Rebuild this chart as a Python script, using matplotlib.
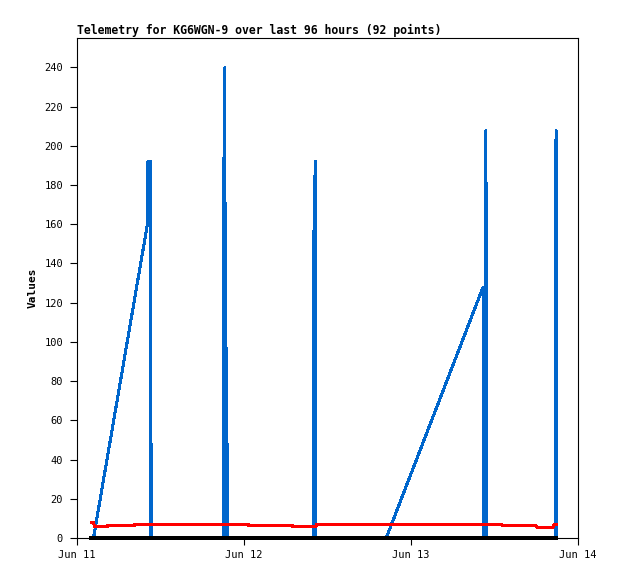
import matplotlib
matplotlib.use("Agg")
import matplotlib.pyplot as plt
import matplotlib.dates as mdates
import numpy as np
import pandas as pd

# Telemetry samples, hours after Jun 11 00:00
base = pd.Timestamp("2024-06-11 00:00")

blue_hours = [2.08, 2.37, 10.12, 10.19, 10.55, 10.60, 10.64, 10.70, 10.72,
              21.03, 21.08, 21.25, 21.32, 21.46, 21.52, 21.61, 21.67,
              33.95, 34.00, 34.24, 34.31, 44.44,
              58.36, 58.42, 58.58, 58.65, 58.77, 58.84,
              68.77, 68.84, 68.90]
blue_vals = [0, 0, 160, 192, 192, 0, 48, 48, 0,
             0, 177, 240, 0, 97, 0, 48, 0,
             0, 145, 192, 0, 0,
             128, 0, 48, 0, 208, 0,
             0, 208, 0]

red_hours = [2.08, 2.37, 2.51, 4.38, 4.40, 8.26, 8.28, 24.62, 24.64, 30.94, 30.96,
             34.38, 34.40, 61.09, 61.11, 65.97, 65.99, 68.41, 68.56, 68.84]
red_vals = [8.0, 8.0, 6.0, 6.0, 6.3, 6.3, 6.9, 6.9, 6.5, 6.5, 6.0,
            6.0, 6.9, 6.9, 6.3, 6.3, 5.6, 5.6, 6.9, 6.9]

black_hours = [2.08, 68.84]
black_vals = [0, 0]

y_ticks = list(range(0, 241, 20))
x_ticks = ["2024-06-11", "2024-06-12", "2024-06-13", "2024-06-14"]
title = "Telemetry for KG6WGN-9 over last 96 hours (92 points)"


def to_time(hours):
    return base + pd.to_timedelta(hours, unit="h")


plt.rcParams["font.family"] = ["DejaVu Sans Mono"]

fig = plt.figure(figsize=(6.18, 5.79), dpi=100)
ax = fig.add_axes([77 / 618, 41 / 579, 501 / 618, 500 / 579])

lw = 1.44
ax.plot(to_time(blue_hours), blue_vals, color="#0066cc", lw=lw, antialiased=False, zorder=2)
ax.plot(to_time(red_hours), red_vals, color="#ff0000", lw=lw, antialiased=False, zorder=3)
ax.plot(to_time(black_hours), black_vals, color="#000000", lw=1.6, antialiased=False,
        zorder=4, clip_on=False)

ax.set_xlim(pd.Timestamp(x_ticks[0]), pd.Timestamp(x_ticks[-1]))
ax.set_ylim(0, 255)
ax.set_yticks(y_ticks)
ax.set_xticks(pd.to_datetime(x_ticks))
ax.xaxis.set_major_formatter(mdates.DateFormatter("%b %d"))

ax.tick_params(axis="both", direction="out", length=5, width=0.8, labelsize=7.5, color="black")
ax.tick_params(axis="y", pad=5)
ax.tick_params(axis="x", pad=4)
for s in ax.spines.values():
    s.set_linewidth(0.8)
    s.set_color("black")

ax.set_ylabel("Values", fontsize=8, fontweight="bold", labelpad=5)
ax.set_title(title, loc="left", fontsize=8.3, fontweight="bold", pad=3)

fig.savefig("out.png", dpi=100)
